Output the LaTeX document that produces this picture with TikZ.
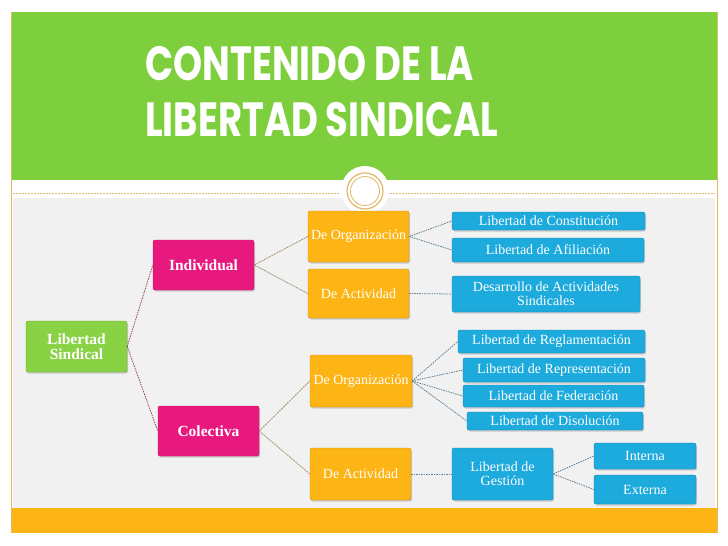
\documentclass[tikz,border=0pt]{standalone}
\usepackage{fontspec}
\usepackage{graphicx}
\setmainfont{Liberation Serif}
\newfontfamily\titlefont{Poppins}
\usetikzlibrary{shapes, positioning, shadows}

\definecolor{headgreen}{HTML}{7ECF3D}
\definecolor{rootgreen}{HTML}{88D243}
\definecolor{branchpink}{HTML}{E8197E}
\definecolor{kindorange}{HTML}{FDB515}
\definecolor{leafblue}{HTML}{1DAADC}
\definecolor{framegold}{HTML}{E2B867}
\definecolor{paper}{HTML}{F1F1F1}
\definecolor{rootlinecol}{HTML}{8A4F5E}
\definecolor{tanlinecol}{HTML}{A8966E}
\definecolor{bluelinecol}{HTML}{5E7F96}

\begin{document}
\begin{tikzpicture}[
        x=1pt, y=-1pt,
        box/.style={
            rectangle,
            draw=#1!80!black,
            fill=#1,
            text=white,
            align=center,
            inner sep=1pt,
            rounded corners=2pt,
            drop shadow={opacity=0.35, shadow xshift=1pt, shadow yshift=-1.5pt}
        },
        root/.style={
            box=rootgreen,
            minimum width=101pt,
            minimum height=51pt,
            font=\fontsize{15.5}{15}\selectfont\bfseries
        },
        branch/.style={
            box=branchpink,
            minimum width=101pt,
            minimum height=50pt,
            font=\fontsize{15.5}{15}\selectfont\bfseries
        },
        kind/.style={
            box=kindorange,
            minimum width=101pt,
            minimum height=51pt,
            font=\fontsize{14}{14}\selectfont
        },
        leaf/.style={
            box=leafblue,
            font=\fontsize{14}{14}\selectfont
        },
        rootline/.style={
            draw=rootlinecol,
            line width=0.8pt,
            dash pattern=on 1.5pt off 1pt
        },
        tanline/.style={
            draw=tanlinecol,
            line width=0.8pt,
            dash pattern=on 2pt off 0.8pt
        },
        blueline/.style={
            draw=bluelinecol,
            line width=0.8pt,
            dash pattern=on 1.5pt off 1pt
        }
    ]
        \useasboundingbox (0,0) rectangle (728,546);

        % Frame
        \fill[white] (0,0) rectangle (728,546);
        \fill[paper] (13,198) rectangle (715,508);
        \fill[headgreen] (11,12) rectangle (717,180);
        \fill[kindorange] (11,508) rectangle (717,533);
        \draw[framegold, line width=0.8pt] (11,12) -- (11,533) (717,12) -- (717,533);
        \fill[white] (365,190) circle (24pt);
        \draw[framegold, line width=1.2pt] (365,191) circle (18pt);
        \draw[framegold, line width=0.8pt] (365,191) circle (14.5pt);
        \draw[framegold, line width=0.8pt, dash pattern=on 2pt off 1pt]
            (13,193) -- (340,193) (390,193) -- (715,193);

        % Title
        \node[anchor=north west, align=left, text=white, inner sep=0pt,
              font=\titlefont\bfseries\fontsize{48}{56}\selectfont] (title) at (145,46)
            {\scalebox{0.77}[1]{CONTENIDO DE LA}\\\scalebox{0.77}[1]{LIBERTAD SINDICAL}};

        % Nodes
        \node [root] (ls) at (76.5,346.5) {Libertad\\Sindical};
        \node [branch] (ind) at (203.5,265) {Individual};
        \node [branch] (col) at (208.5,431) {Colectiva};

        \node [kind] (org1) at (358.5,236.5) {De Organización};
        \node [kind, minimum height=49pt] (act1) at (358.5,293.5) {De Actividad};
        \node [kind, minimum width=102pt, minimum height=52pt] (org2) at (361,381) {De Organización};
        \node [kind, minimum height=52pt] (act2) at (360.5,474) {De Actividad};

        \node [leaf, minimum width=193pt, minimum height=18pt] (const) at (548.5,221) {Libertad de Constitución};
        \node [leaf, minimum width=192pt, minimum height=24pt] (afil) at (548,250) {Libertad de Afiliación};
        \node [leaf, minimum width=188pt, minimum height=36pt] (desa) at (546,294) {Desarrollo de Actividades\\Sindicales};

        \node [leaf, minimum width=187pt, minimum height=23pt] (regl) at (551.5,341.5) {Libertad de Reglamentación};
        \node [leaf, minimum width=182pt, minimum height=24pt] (repr) at (554,370) {Libertad de Representación};
        \node [leaf, minimum width=181pt, minimum height=22pt] (fede) at (553.5,396) {Libertad de Federación};
        \node [leaf, minimum width=176pt, minimum height=18pt] (diso) at (555,421) {Libertad de Disolución};

        \node [leaf, minimum width=101pt, minimum height=52pt] (gest) at (502.5,474) {Libertad de\\Gestión};
        \node [leaf, minimum width=102pt, minimum height=26pt] (inte) at (645,456) {Interna};
        \node [leaf, minimum width=102pt, minimum height=29pt] (exte) at (645,489.5) {Externa};

        % Paths
        \path [rootline] (ls.east) -- (ind.west);
        \path [rootline] (ls.east) -- (col.west);
        \path [tanline] (ind.east) -- (org1.west);
        \path [tanline] (ind.east) -- (act1.west);
        \path [tanline] (col.east) -- (org2.west);
        \path [tanline] (col.east) -- (act2.west);
        \path [blueline] (org1.east) -- (const.west);
        \path [blueline] (org1.east) -- (afil.west);
        \path [blueline] (act1.east) -- (desa.west);
        \path [blueline] (org2.east) -- (regl.west);
        \path [blueline] (org2.east) -- (repr.west);
        \path [blueline] (org2.east) -- (fede.west);
        \path [blueline] (org2.east) -- (diso.west);
        \path [blueline] (act2.east) -- (gest.west);
        \path [blueline] (gest.east) -- (inte.west);
        \path [blueline] (gest.east) -- (exte.west);

    \end{tikzpicture}
\end{document}
